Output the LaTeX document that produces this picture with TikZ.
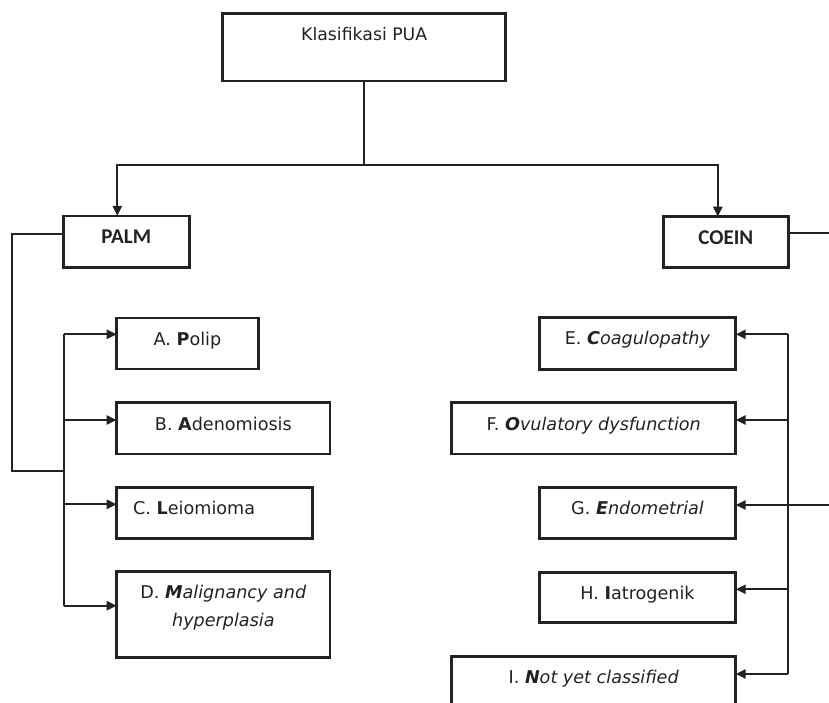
\documentclass[tikz,border=0pt]{standalone}
\usepackage{fontspec}
\setmainfont{DejaVu Sans}
\newfontfamily\calib{Carlito}
\usetikzlibrary{arrows.meta}
\definecolor{ink}{RGB}{34,34,34}
\begin{document}
\begin{tikzpicture}[x=1pt,y=-1pt,
  box/.style={draw=ink,line width=2.6pt,rectangle,inner sep=0pt,outer sep=0pt,anchor=north west},
  line/.style={draw=ink,line width=2.3pt},
  arr/.style={line,-{Triangle[length=10pt,width=9pt]}},
  itemtxt/.style={text=ink,anchor=base,inner sep=0pt,font=\fontsize{17.6}{21}\selectfont},
  headtxt/.style={text=ink,anchor=base,inner sep=0pt,font=\calib\bfseries\fontsize{21}{24}\selectfont}]
\useasboundingbox (0,0) rectangle (829,703);
\clip (0,0) rectangle (829,703);
% boxes
\node[box,minimum width=283pt,minimum height=67.7pt] (top) at (222.7,13.3) {};
\node[box,minimum width=126pt,minimum height=51.3pt] (palm) at (63.3,216) {};
\node[box,minimum width=125pt,minimum height=50.6pt] (coein) at (663.3,216.7) {};
\node[box,minimum width=141.6pt,minimum height=51pt] (A) at (116.7,318) {};
\node[box,minimum width=213.3pt,minimum height=51.3pt] (B) at (116.7,402.7) {};
\node[box,minimum width=195.6pt,minimum height=51pt] (C) at (116.7,487.5) {};
\node[box,minimum width=213.3pt,minimum height=85.6pt] (D) at (116.7,571.7) {};
\node[box,minimum width=196.4pt,minimum height=51.6pt] (E) at (539.3,317.7) {};
\node[box,minimum width=284pt,minimum height=51.3pt] (F) at (451.7,402.7) {};
\node[box,minimum width=196.4pt,minimum height=50.6pt] (G) at (539.3,487.7) {};
\node[box,minimum width=196.4pt,minimum height=50.4pt] (H) at (539.3,572.3) {};
\node[box,minimum width=284pt,minimum height=80pt] (I) at (451.7,656.7) {};
% texts
\node[itemtxt,font=\fontsize{17.3}{21}\selectfont] (ttop) at ([yshift=-27.3pt]top.north) {Klasifikasi PUA};
\node[headtxt] (tpalm) at ([yshift=-27.3pt]palm.north) {PALM};
\node[headtxt] (tcoein) at ([yshift=-27.3pt]coein.north) {COEIN};
\node[itemtxt] (tA) at ([yshift=-27pt]A.north) {A. \textbf{P}olip};
\node[itemtxt] (tB) at ([yshift=-27.3pt]B.north) {B. \textbf{A}denomiosis};
\node[itemtxt,anchor=base west] (tC) at ([xshift=16.3pt,yshift=-27pt]C.north west) {C. \textbf{L}eiomioma};
\node[itemtxt] (tD1) at ([yshift=-26.7pt]D.north) {D. \textbf{\textit{M}}\textit{alignancy and}};
\node[itemtxt] (tD2) at ([yshift=-55pt]D.north) {\textit{hyperplasia}};
\node[itemtxt] (tE) at ([yshift=-26.7pt]E.north) {E. \textbf{\textit{C}}\textit{oagulopathy}};
\node[itemtxt] (tF) at ([yshift=-27.3pt]F.north) {F. \textbf{\textit{O}}\textit{vulatory dysfunction}};
\node[itemtxt] (tG) at ([yshift=-27pt]G.north) {G. \textbf{\textit{E}}\textit{ndometrial}};
\node[itemtxt] (tH) at ([yshift=-27pt]H.north) {H. \textbf{I}atrogenik};
\node[itemtxt] (tI) at ([yshift=-27pt]I.north) {I. \textbf{\textit{N}}\textit{ot yet classified}};
% top connectors
\coordinate (bar) at (364,165);
\draw[line] (top.south) -- (top.south |- bar);
\draw[arr] (top.south |- bar) -| ([xshift=-9pt]palm.north);
\draw[arr] (top.south |- bar) -| ([xshift=-8pt]coein.north);
% PALM branch
\coordinate (ta) at (64,334.3);
\coordinate (tb) at (64,420);
\coordinate (tc) at (64,504.3);
\coordinate (td) at (64,605.7);
\coordinate (lp) at (11.7,471);
\draw[line,line join=miter] ([yshift=7.7pt]palm.west) -| (lp) -- (lp -| ta);
\draw[line] (ta) -- (td);
\draw[arr] (ta) -- (ta -| A.west);
\draw[arr] (tb) -- (tb -| B.west);
\draw[arr] (tc) -- (tc -| C.west);
\draw[arr] (td) -- (td -| D.west);
% COEIN branch
\coordinate (cr) at (845,233.3);
\draw[line] (coein.east |- cr) -- (cr);
\coordinate (te) at (788.3,334.3);
\coordinate (tf) at (788.3,420);
\coordinate (th) at (788.3,589.3);
\coordinate (ti) at (788.3,674);
\coordinate (gr) at (845,505);
\draw[line] (te) -- (ti);
\draw[arr] (te) -- (te -| E.east);
\draw[arr] (tf) -- (tf -| F.east);
\draw[arr] (gr) -- (gr -| G.east);
\draw[arr] (th) -- (th -| H.east);
\draw[arr] (ti) -- (ti -| I.east);
\end{tikzpicture}
\end{document}
